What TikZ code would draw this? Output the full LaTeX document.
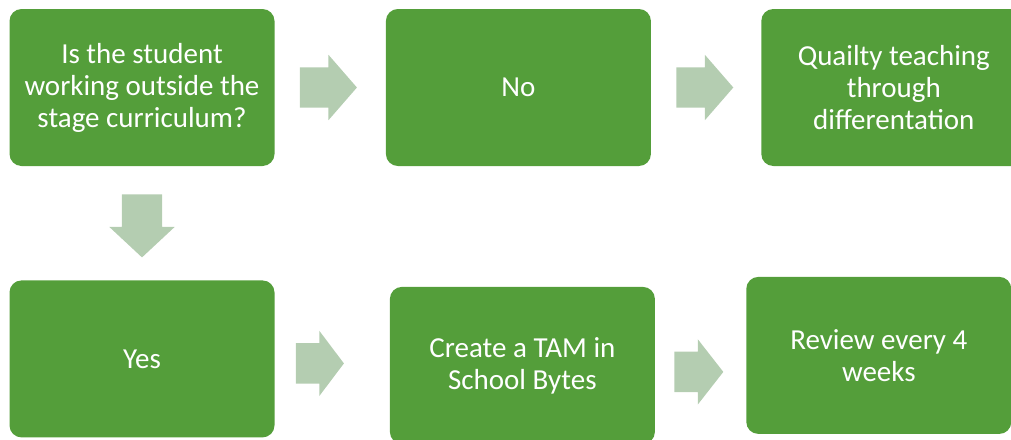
\documentclass[tikz,border=0pt]{standalone}
\usepackage{fontspec}
\setmainfont{Carlito}
\usetikzlibrary{positioning,shapes.arrows,calc}
\definecolor{boxgreen}{RGB}{84,158,58}
\definecolor{arrowgreen}{RGB}{180,205,177}

\begin{document}
\begin{tikzpicture}[x=1pt, y=-1pt,
    stepbox/.style={rectangle, rounded corners=12pt, fill=boxgreen, text=white,
        minimum width=265pt, minimum height=157pt, inner sep=0pt, align=center,
        font=\fontsize{29}{32}\selectfont},
    blockarrow/.style={single arrow, fill=arrowgreen, inner xsep=0pt, inner ysep=20pt,
        single arrow head extend=12.5pt, single arrow tip angle=98, minimum height=57pt,
        anchor=tail}
    ]
        \path[use as bounding box, clip] (0,0) rectangle (1011,439);

        %Nodes
        \node[stepbox]
            (q)     at (142,87.5)          {Is the student\\working outside the\\stage curriculum?};
        \node[stepbox]
            (no)    [right=111pt of q]     {No};
        \node[stepbox]
            (qual)  [right=110pt of no]    {Quailty teaching\\through\\differentation};
        \node[stepbox]
            (yes)   [below=114pt of q]     {Yes};
        \node[stepbox]
            (tam)   [right=115pt of yes, yshift=-6.5pt] {Create a TAM in\\School Bytes};
        \node[stepbox]
            (rev)   [right=91pt of tam, yshift=10pt]    {Review every 4\\weeks};

        %Arrows
        \node[blockarrow] (q-no)    at ([xshift=25pt]q.east) {};
        \node[blockarrow] (no-qual) at ([xshift=25pt]no.east) {};
        \node[blockarrow, rotate=-90, minimum height=63pt, single arrow tip angle=94]
            (q-yes)   at ([yshift=-28pt]q.south) {};
        \node[blockarrow, minimum height=48pt, single arrow tip angle=106]
            (yes-tam) at ([xshift=21pt, yshift=-4.5pt]yes.east) {};
        \node[blockarrow, minimum height=49pt, single arrow tip angle=104]
            (tam-rev) at ([xshift=19pt, yshift=-6.5pt]tam.east) {};
\end{tikzpicture}
\end{document}
